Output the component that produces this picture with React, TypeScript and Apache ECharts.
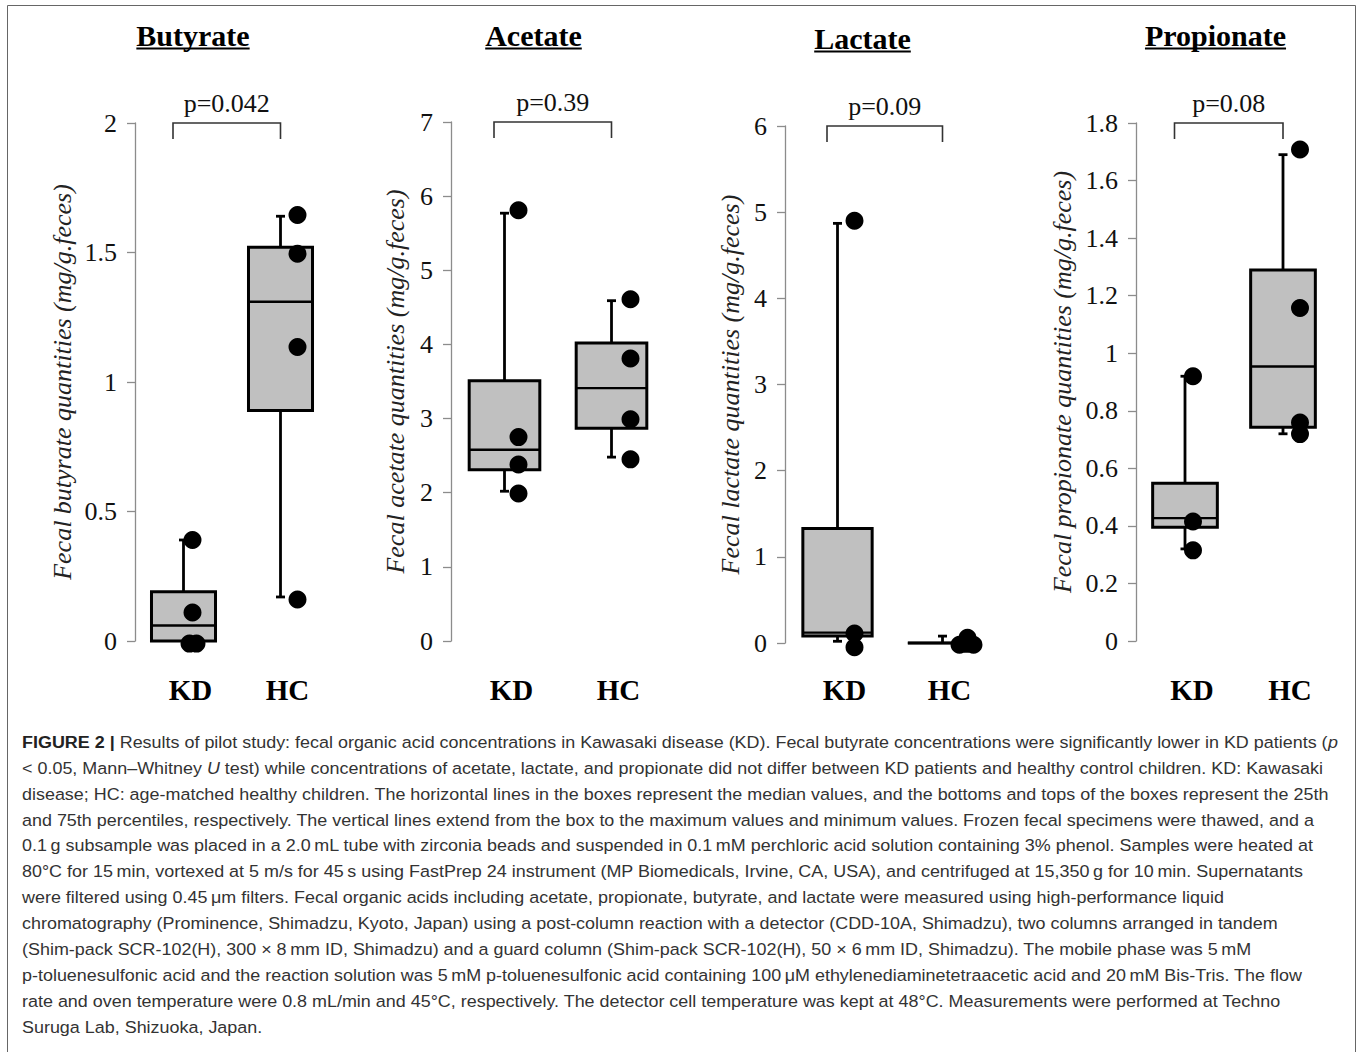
import React, { useEffect, useRef } from "react";
import * as echarts from "echarts";

// ---------------- data ----------------
const groups = ["KD", "HC"];
const panelTitles = ["Butyrate", "Acetate", "Lactate", "Propionate"];
const yNames = [
  "Fecal butyrate quantities (mg/g.feces)",
  "Fecal acetate quantities (mg/g.feces)",
  "Fecal lactate quantities (mg/g.feces)",
  "Fecal propionate quantities (mg/g.feces)",
];
const pValues = ["p=0.042", "p=0.39", "p=0.09", "p=0.08"];
const yMax = [2, 7, 6, 1.8];
const yInterval = [0.5, 1, 1, 0.2];

// box stats: [min, q1, median, q3, max]
const butyrateBoxKD = [0, 0, 0.06, 0.19, 0.39];
const butyrateBoxHC = [0.17, 0.89, 1.31, 1.52, 1.64];
const acetateBoxKD = [2.02, 2.31, 2.58, 3.51, 5.77];
const acetateBoxHC = [2.48, 2.87, 3.41, 4.02, 4.59];
const lactateBoxKD = [0.02, 0.08, 0.12, 1.33, 4.87];
const lactateBoxHC = [0, 0, 0, 0, 0.08];
const propionateBoxKD = [0.32, 0.395, 0.427, 0.548, 0.92];
const propionateBoxHC = [0.72, 0.743, 0.954, 1.289, 1.69];

// individual measurements
const butyratePtsKD = [0.39, 0.11, -0.01, -0.01];
const butyratePtsHC = [1.645, 1.495, 1.135, 0.16];
const acetatePtsKD = [5.81, 2.75, 2.38, 1.99];
const acetatePtsHC = [4.61, 3.81, 2.99, 2.45];
const lactatePtsKD = [4.9, 0.11, -0.05];
const lactatePtsHC = [0.06, -0.02, -0.02, -0.01];
const propionatePtsKD = [0.92, 0.415, 0.315];
const propionatePtsHC = [1.708, 1.157, 0.759, 0.719];

const boxes = [
  [butyrateBoxKD, butyrateBoxHC],
  [acetateBoxKD, acetateBoxHC],
  [lactateBoxKD, lactateBoxHC],
  [propionateBoxKD, propionateBoxHC],
];
const points = [
  [butyratePtsKD, butyratePtsHC],
  [acetatePtsKD, acetatePtsHC],
  [lactatePtsKD, lactatePtsHC],
  [propionatePtsKD, propionatePtsHC],
];

const captionLines = [
  "{b|FIGURE 2 |} Results of pilot study: fecal organic acid concentrations in Kawasaki disease (KD). Fecal butyrate concentrations were significantly lower in KD patients ({i|p}",
  "< 0.05, Mann\u2013Whitney {i|U} test) while concentrations of acetate, lactate, and propionate did not differ between KD patients and healthy control children. KD: Kawasaki",
  "disease; HC: age-matched healthy children. The horizontal lines in the boxes represent the median values, and the bottoms and tops of the boxes represent the 25th",
  "and 75th percentiles, respectively. The vertical lines extend from the box to the maximum values and minimum values. Frozen fecal specimens were thawed, and a",
  "0.1\u2009g subsample was placed in a 2.0\u2009mL tube with zirconia beads and suspended in 0.1\u2009mM perchloric acid solution containing 3% phenol. Samples were heated at",
  "80\u00b0C for 15\u2009min, vortexed at 5 m/s for 45\u2009s using FastPrep 24 instrument (MP Biomedicals, Irvine, CA, USA), and centrifuged at 15,350\u2009g for 10\u2009min. Supernatants",
  "were filtered using 0.45\u2009\u03bcm filters. Fecal organic acids including acetate, propionate, butyrate, and lactate were measured using high-performance liquid",
  "chromatography (Prominence, Shimadzu, Kyoto, Japan) using a post-column reaction with a detector (CDD-10A, Shimadzu), two columns arranged in tandem",
  "(Shim-pack SCR-102(H), 300 \u00d7 8\u2009mm ID, Shimadzu) and a guard column (Shim-pack SCR-102(H), 50 \u00d7 6\u2009mm ID, Shimadzu). The mobile phase was 5\u2009mM",
  "p-toluenesulfonic acid and the reaction solution was 5\u2009mM p-toluenesulfonic acid containing 100\u2009\u03bcM ethylenediaminetetraacetic acid and 20\u2009mM Bis-Tris. The flow",
  "rate and oven temperature were 0.8 mL/min and 45\u00b0C, respectively. The detector cell temperature was kept at 48\u00b0C. Measurements were performed at Techno",
  "Suruga Lab, Shizuoka, Japan.",
];

// ---------------- layout / style ----------------
const SERIF = '"Liberation Serif", "Times New Roman", serif';
const SANS = '"Liberation Sans", Arial, sans-serif';
const GRIDS = [
  { left: 135, top: 123, width: 194, height: 518 },
  { left: 451, top: 122, width: 214, height: 519 },
  { left: 785, top: 126, width: 210, height: 517 },
  { left: 1136, top: 123, width: 196, height: 518 },
];
const NAME_GAP = [60, 43, 42, 61];
const CAT_MARGIN = [34, 34, 32, 34];
const TITLE_POS = [
  [193, 35],
  [533.5, 35],
  [862.5, 38],
  [1215.5, 35],
];
const TITLE_FONT = 30;
const DOT_DX = [
  [[9, 9, 6, 13], [17, 17, 17, 17]],
  [[14, 14, 14, 14], [19, 19, 19, 19]],
  [[17, 17, 17], [25, 17, 31, 24]],
  [[8, 8, 8], [17, 17, 17, 17]],
];
const BOX_RATIO = 0.66;
const CAP_HALF = 4.5;
const CAPTION_X = 22;
const CAPTION_Y0 = 742;
const CAPTION_DY = 25.9;
const CAPTION_LINE1_WIDTH = 1316;
const CAPTION_FONT = 17;

function measure(text: string, font: string): number {
  const ctx = document.createElement("canvas").getContext("2d");
  if (!ctx) return text.length * 8;
  ctx.font = font;
  return ctx.measureText(text).width;
}

function boxRenderItem(params: any, api: any) {
  const idx = api.value(0);
  const mn = api.value(1);
  const q1 = api.value(2);
  const md = api.value(3);
  const q3 = api.value(4);
  const mx = api.value(5);
  const cx = api.coord([idx, md])[0];
  const band = api.size([1, 0])[0];
  const hw = (band * BOX_RATIO) / 2;
  const y = (v: number) => api.coord([idx, v])[1];
  const ls = { stroke: "#000", lineWidth: 2.8 };
  const children: any[] = [];
  if (mx > q3) {
    children.push({ type: "line", shape: { x1: cx, y1: y(q3), x2: cx, y2: y(mx) }, style: ls });
    children.push({ type: "line", shape: { x1: cx - CAP_HALF, y1: y(mx), x2: cx + CAP_HALF, y2: y(mx) }, style: ls });
  }
  if (mn < q1) {
    children.push({ type: "line", shape: { x1: cx, y1: y(q1), x2: cx, y2: y(mn) }, style: ls });
    children.push({ type: "line", shape: { x1: cx - CAP_HALF, y1: y(mn), x2: cx + CAP_HALF, y2: y(mn) }, style: ls });
  }
  children.push({
    type: "rect",
    shape: { x: cx - hw, y: y(q3), width: hw * 2, height: y(q1) - y(q3) },
    style: { fill: "#c0c0c0", stroke: "#000", lineWidth: 3 },
  });
  children.push({ type: "line", shape: { x1: cx - hw, y1: y(md), x2: cx + hw, y2: y(md) }, style: { stroke: "#000", lineWidth: 2.4 } });
  return { type: "group", children };
}

function makeBracketRender(label: string) {
  return (params: any, api: any) => {
    const top = api.value(2);
    const p0 = api.coord([api.value(0), top]);
    const p1 = api.coord([api.value(1), top]);
    const x1 = p0[0] - 10.5;
    const x2 = p1[0];
    const yt = p0[1];
    return {
      type: "group",
      children: [
        {
          type: "polyline",
          shape: { points: [[x1, yt + 16], [x1, yt], [x2, yt], [x2, yt + 16]] },
          style: { stroke: "#333", lineWidth: 1.6, fill: "none" },
        },
        {
          type: "text",
          style: {
            text: label,
            x: (x1 + x2) / 2,
            y: yt - 20,
            align: "center",
            verticalAlign: "middle",
            fontFamily: SERIF,
            fontSize: 26,
            fill: "#111",
          },
        },
      ],
    };
  };
}

export default function App() {
  const ref = useRef<HTMLDivElement>(null);
  useEffect(() => {
    if (!ref.current) return;
    const chart = echarts.init(ref.current, undefined, { renderer: "svg" });

    const grid: any[] = [];
    const xAxis: any[] = [];
    const yAxis: any[] = [];
    const series: any[] = [];
    const graphic: any[] = [];

    for (let i = 0; i < 4; i++) {
      grid.push({ ...GRIDS[i], containLabel: false });
      xAxis.push({
        gridIndex: i,
        type: "category",
        data: groups,
        axisLine: { show: false },
        axisTick: { show: false },
        axisLabel: {
          fontFamily: SERIF,
          fontWeight: "bold",
          fontSize: 29,
          color: "#000",
          margin: CAT_MARGIN[i],
          padding: [0, 0, 0, 14],
        },
      });
      yAxis.push({
        gridIndex: i,
        type: "value",
        min: 0,
        max: yMax[i],
        interval: yInterval[i],
        name: yNames[i],
        nameLocation: "middle",
        nameGap: NAME_GAP[i],
        nameTextStyle: { fontFamily: SERIF, fontStyle: "italic", fontSize: 26, color: "#222" },
        axisLine: { show: true, lineStyle: { color: "#8c8c8c", width: 1.3 } },
        axisTick: { show: true, length: 8, lineStyle: { color: "#8c8c8c", width: 1.3 } },
        axisLabel: { fontFamily: SERIF, fontSize: 26, color: "#111", margin: 18 },
        splitLine: { show: false },
      });
      series.push({
        type: "custom",
        xAxisIndex: i,
        yAxisIndex: i,
        renderItem: boxRenderItem,
        encode: { x: 0, y: [1, 2, 3, 4, 5] },
        clip: false,
        z: 2,
        data: boxes[i].map((b, g) => [g, ...b]),
      });
      const pts: any[] = [];
      points[i].forEach((arr, g) => {
        arr.forEach((v, k) => {
          pts.push({ value: [g, v], symbolOffset: [DOT_DX[i][g][k], 0] });
        });
      });
      series.push({
        type: "scatter",
        xAxisIndex: i,
        yAxisIndex: i,
        symbol: "circle",
        symbolSize: 18,
        itemStyle: { color: "#000", opacity: 1 },
        clip: false,
        z: 5,
        data: pts,
      });
      series.push({
        type: "custom",
        xAxisIndex: i,
        yAxisIndex: i,
        renderItem: makeBracketRender(pValues[i]),
        encode: { x: [0, 1], y: 2 },
        clip: false,
        z: 3,
        data: [[0, 1, yMax[i]]],
      });

      // panel title with underline
      const tFont = `bold ${TITLE_FONT}px ${SERIF}`;
      const tw = measure(panelTitles[i], tFont);
      const [tx, ty] = TITLE_POS[i];
      graphic.push({
        type: "text",
        x: tx,
        y: ty,
        style: {
          text: panelTitles[i],
          align: "center",
          verticalAlign: "middle",
          fontFamily: SERIF,
          fontWeight: "bold",
          fontSize: TITLE_FONT,
          fill: "#000",
        },
      });
      graphic.push({
        type: "line",
        shape: { x1: tx - tw / 2, y1: ty + 13.5, x2: tx + tw / 2, y2: ty + 13.5 },
        style: { stroke: "#000", lineWidth: 1.8 },
      });
    }

    // caption
    const plain = (s: string) => s.replace(/\{b\|([^}]*)\}/g, "$1").replace(/\{i\|([^}]*)\}/g, "$1");
    const line1 = captionLines[0];
    const boldPart = "FIGURE 2 |";
    const restPart = plain(line1).slice(boldPart.length);
    const w1 =
      measure(boldPart, `bold ${CAPTION_FONT}px ${SANS}`) +
      measure(restPart, `${CAPTION_FONT}px ${SANS}`);
    const scaleX = CAPTION_LINE1_WIDTH / w1;
    captionLines.forEach((ln, k) => {
      graphic.push({
        type: "text",
        x: CAPTION_X,
        y: CAPTION_Y0 + k * CAPTION_DY,
        scaleX,
        scaleY: 1,
        style: {
          text: ln,
          align: "left",
          verticalAlign: "middle",
          fontFamily: SANS,
          fontSize: CAPTION_FONT,
          fill: "#333",
          rich: {
            b: { fontFamily: SANS, fontSize: CAPTION_FONT, fontWeight: "bold", fill: "#222" },
            i: { fontFamily: SANS, fontSize: CAPTION_FONT, fontStyle: "italic", fill: "#333" },
          },
        },
      });
    });

    // frame
    const fr = { stroke: "#666", lineWidth: 1 };
    graphic.push({ type: "line", shape: { x1: 7.5, y1: 5.5, x2: 1355.5, y2: 5.5 }, style: fr });
    graphic.push({ type: "line", shape: { x1: 7.5, y1: 5.5, x2: 7.5, y2: 1052 }, style: fr });
    graphic.push({ type: "line", shape: { x1: 1355.5, y1: 5.5, x2: 1355.5, y2: 1052 }, style: fr });

    chart.setOption({
      animation: false,
      backgroundColor: "#ffffff",
      grid,
      xAxis,
      yAxis,
      series,
      graphic,
    });
    return () => chart.dispose();
  }, []);

  return (
    <div
      ref={ref}
      style={{ position: "absolute", left: 0, top: 0, width: 1360, height: 1052, background: "#fff" }}
    />
  );
}
